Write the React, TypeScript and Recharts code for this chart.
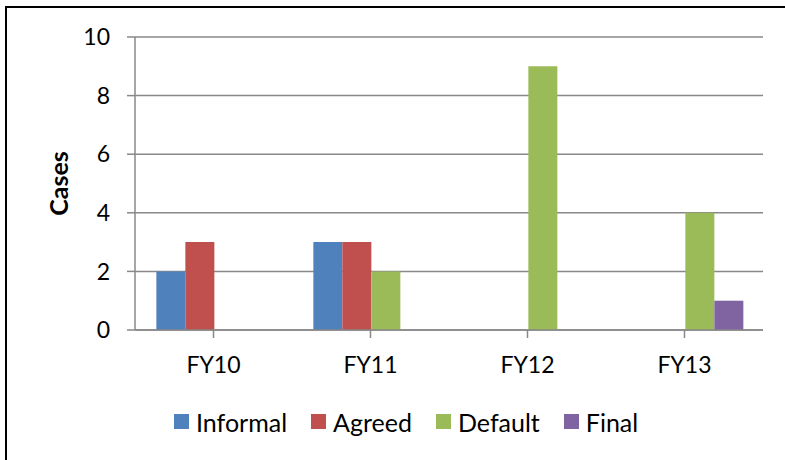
import { BarChart, Bar, XAxis, YAxis, CartesianGrid, Legend, Label } from "recharts";

const categories = ["FY10", "FY11", "FY12", "FY13"];
const informal = [2, 3, 0, 0];
const agreed = [3, 3, 0, 0];
const defaulted = [0, 2, 9, 4];
const finalCases = [0, 0, 0, 1];
const yTicks = [0, 2, 4, 6, 8, 10];

const SERIES = [
  { key: "informal", name: "Informal", color: "#4F81BD" },
  { key: "agreed", name: "Agreed", color: "#C0504D" },
  { key: "default", name: "Default", color: "#9BBB59" },
  { key: "final", name: "Final", color: "#8064A2" },
];

const data = categories.map((name, i) => ({
  name,
  informal: informal[i],
  agreed: agreed[i],
  default: defaulted[i],
  final: finalCases[i],
}));

const FONT = "Lato, 'Open Sans', sans-serif";
const GRID = "#888888";

function LegendBox() {
  return (
    <div
      style={{
        display: "flex",
        alignItems: "center",
        height: 33,
        paddingLeft: 174,
        fontFamily: FONT,
        fontSize: 25,
        color: "#000",
      }}
    >
      {SERIES.map((s) => (
        <div key={s.key} style={{ display: "flex", alignItems: "center", marginRight: 24 }}>
          <span style={{ width: 15, height: 15, background: s.color, marginRight: 7, display: "inline-block" }} />
          <span>{s.name}</span>
        </div>
      ))}
    </div>
  );
}

export default function App() {
  return (
    <div
      style={{
        position: "fixed",
        left: 0,
        top: 0,
        width: 785,
        height: 460,
        overflow: "hidden",
        background: "#fff",
      }}
    >
      <div
        style={{
          position: "absolute",
          left: 5,
          top: 6,
          width: 820,
          height: 500,
          border: "2px solid #000",
        }}
      />
      <div style={{ position: "absolute", left: 0, top: 0 }}>
        <BarChart
          width={785}
          height={460}
          data={data}
          margin={{ top: 37, right: 22, left: 0, bottom: 70 }}
          barCategoryGap="13.6%"
          barGap={0}
        >
          <CartesianGrid vertical={false} stroke={GRID} strokeWidth={1.5} />
          <XAxis
            dataKey="name"
            height={60}
            tickSize={8}
            tickMargin={19}
            stroke={GRID}
            strokeWidth={1.5}
            interval={0}
            tick={{ fill: "#000", fontSize: 23, fontFamily: FONT }}
          />
          <YAxis
            width={135}
            domain={[0, 10]}
            ticks={yTicks}
            tickSize={8}
            tickMargin={17}
            stroke={GRID}
            strokeWidth={1.5}
            tick={{ fill: "#000", fontSize: 23, fontFamily: FONT }}
          >
            <Label
              content={(props: any) => {
                const vb = props.viewBox || { x: 0, y: 37, height: 292 };
                const cx = vb.x + 58;
                const cy = vb.y + vb.height / 2;
                return (
                  <text
                    x={cx}
                    y={cy}
                    transform={`rotate(-90, ${cx}, ${cy})`}
                    textAnchor="middle"
                    dominantBaseline="central"
                    fontFamily={FONT}
                    fontWeight="bold"
                    fontSize={25}
                    fill="#000"
                  >
                    Cases
                  </text>
                );
              }}
            />
          </YAxis>
          <Legend
            layout="horizontal"
            verticalAlign="middle"
            content={() => <LegendBox />}
            wrapperStyle={{ top: 405, left: 0, width: 785 }}
          />
          {SERIES.map((s) => (
            <Bar key={s.key} dataKey={s.key} name={s.name} fill={s.color} isAnimationActive={false} />
          ))}
        </BarChart>
      </div>
    </div>
  );
}
